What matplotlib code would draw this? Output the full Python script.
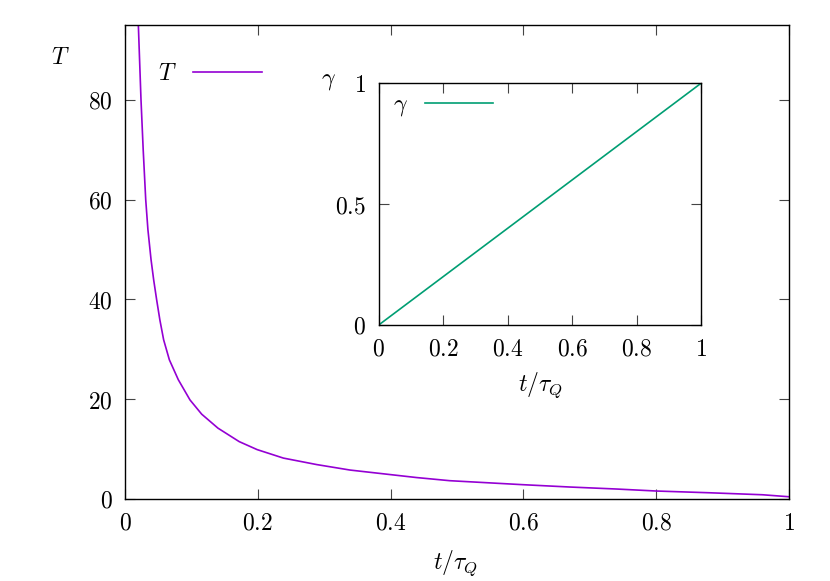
import matplotlib
matplotlib.use("Agg")
import matplotlib.pyplot as plt
from matplotlib.ticker import FuncFormatter

plt.rcParams['mathtext.fontset'] = 'cm'
plt.rcParams['font.family'] = ['DejaVu Serif']

# Data
t_T = [0.0201, 0.0241, 0.0274, 0.0312, 0.0345, 0.0392, 0.0432, 0.0477, 0.0525,
       0.0582, 0.0668, 0.0803, 0.0979, 0.1155, 0.140, 0.172, 0.199, 0.2385, 0.2887,
       0.339, 0.399, 0.439, 0.489, 0.599, 0.67, 0.74, 0.80, 0.88, 0.96, 1.0]
T_vals = [95, 80, 70, 60, 54, 48, 43.9, 39.9, 35.9,
          31.9, 27.9, 23.9, 19.85, 17.0, 14.2, 11.5, 9.9, 8.2, 6.9,
          5.8, 4.9, 4.3, 3.67, 2.87, 2.4, 2.0, 1.6, 1.25, 0.85, 0.45]
t_g = [0.0, 1.0]
gamma_vals = [0.0, 1.0]

main_xticks = [0, 0.2, 0.4, 0.6, 0.8, 1]
main_yticks = [0, 20, 40, 60, 80]
inset_xticks = [0, 0.2, 0.4, 0.6, 0.8, 1]
inset_yticks = [0, 0.5, 1]

W, H = 830, 581
fig = plt.figure(figsize=(W / 100, H / 100), dpi=100)

FS = 17
purple = '#9400D3'
green = '#009E73'


def fmt(v, pos):
    return '$%g$' % v


def style(ax):
    ax.tick_params(direction='in', length=7, width=0.8, top=True, right=True,
                   labelsize=FS, pad=9, color='#444444')
    for s in ax.spines.values():
        s.set_linewidth(1.0)
    ax.xaxis.set_major_formatter(FuncFormatter(fmt))
    ax.yaxis.set_major_formatter(FuncFormatter(fmt))


# main axes
ax = fig.add_axes([125 / W, 1 - 499 / H, (789 - 125) / W, (499 - 25) / H])
ax.plot(t_T, T_vals, color=purple, lw=1.2, label=r'$T$')
ax.set_xlim(0, 1)
ax.set_ylim(0, 95)
ax.set_xticks(main_xticks)
ax.set_yticks(main_yticks)
style(ax)
ax.legend(loc='upper left', bbox_to_anchor=(0.05, 0.922), frameon=False,
          markerfirst=False, fontsize=FS, handlelength=2.9, handletextpad=0.7,
          borderpad=0, borderaxespad=0)
fig.text(60 / W, 1 - 58 / H, r'$T$', fontsize=FS, ha='center', va='center')
fig.text(455 / W, 1 - 563 / H, r'$t/\tau_Q$', fontsize=FS, ha='center', va='center')

# inset axes
ai = fig.add_axes([378.7 / W, 1 - 325 / H, (701 - 378.7) / W, (325 - 83.3) / H])
ai.plot(t_g, gamma_vals, color=green, lw=1.2, label=r'$\gamma$')
ai.set_xlim(0, 1)
ai.set_ylim(0, 1)
ai.set_xticks(inset_xticks)
ai.set_yticks(inset_yticks)
style(ai)
ai.legend(loc='upper left', bbox_to_anchor=(0.045, 0.96), frameon=False,
          markerfirst=False, fontsize=FS, handlelength=2.9, handletextpad=0.7,
          borderpad=0, borderaxespad=0)
fig.text(328 / W, 1 - 80 / H, r'$\gamma$', fontsize=FS, ha='center', va='center')
fig.text(540 / W, 1 - 385 / H, r'$t/\tau_Q$', fontsize=FS, ha='center', va='center')

fig.savefig('out.png', dpi=100)
